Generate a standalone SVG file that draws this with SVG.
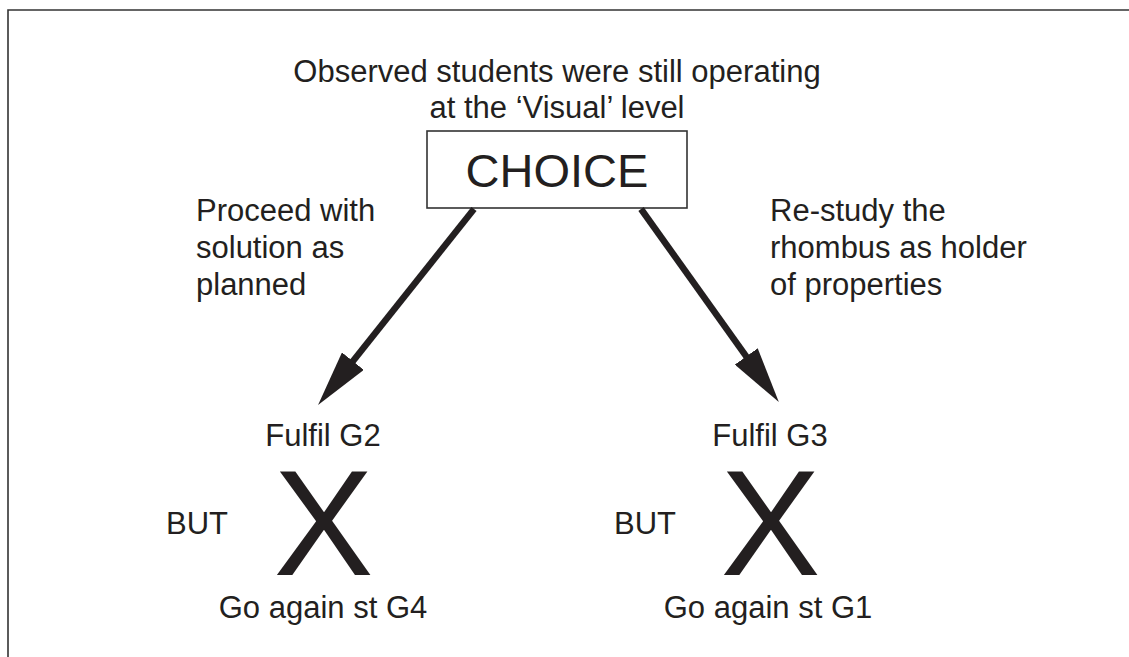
<svg xmlns="http://www.w3.org/2000/svg" width="1129" height="657" viewBox="0 0 1129 657">
<style>
.t{font-family:"Liberation Sans",Arial,Helvetica,sans-serif;font-size:31px;fill:#231f20}
.m{text-anchor:middle}
.x{font-family:"Liberation Sans",Arial,Helvetica,sans-serif;font-size:150px;fill:#231f20;text-anchor:middle}
.frame{fill:none;stroke:#333;stroke-width:1.6}
.conn{stroke:#231f20;stroke-width:6.5;fill:none}
</style>
<defs>
<marker id="ah" markerUnits="userSpaceOnUse" markerWidth="56" markerHeight="28" refX="10" refY="14" orient="auto" viewBox="0 0 56 28">
<path d="M0,0 L56,14 L0,28 Z" fill="#231f20"/>
</marker>
</defs>
<rect width="1129" height="657" fill="#fff"/>
<path class="frame" d="M8,660 L8,10 L1132,10"/>
<g id="title">
<text class="t m" x="557" y="82">Observed students were still operating</text>
<text class="t m" x="557" y="118">at the ‘Visual’ level</text>
</g>
<g id="choice">
<rect x="427" y="131" width="260" height="77" fill="#fff" stroke="#333" stroke-width="1.6"/>
<text class="t m" x="557" y="187" style="font-size:47px">CHOICE</text>
</g>
<g id="label-left">
<text class="t" x="196" y="221">Proceed with</text>
<text class="t" x="196" y="258">solution as</text>
<text class="t" x="196" y="295">planned</text>
</g>
<g id="label-right">
<text class="t" x="770" y="221">Re-study the</text>
<text class="t" x="770" y="258">rhombus as holder</text>
<text class="t" x="770" y="295">of properties</text>
</g>
<g id="connectors">
<line class="conn" x1="474" y1="209" x2="346.7" y2="369" marker-end="url(#ah)"/>
<line class="conn" x1="641" y1="209" x2="752.1" y2="364.6" marker-end="url(#ah)"/>
</g>
<g id="g2">
<text class="t m" x="323" y="446">Fulfil G2</text>
<text class="x" x="323.5" y="575">X</text>
<text class="t" x="166" y="534">BUT</text>
<text class="t m" x="323" y="618">Go again st G4</text>
</g>
<g id="g3">
<text class="t m" x="770" y="446">Fulfil G3</text>
<text class="x" x="770.5" y="575">X</text>
<text class="t" x="614" y="534">BUT</text>
<text class="t m" x="768" y="618">Go again st G1</text>
</g>
</svg>
